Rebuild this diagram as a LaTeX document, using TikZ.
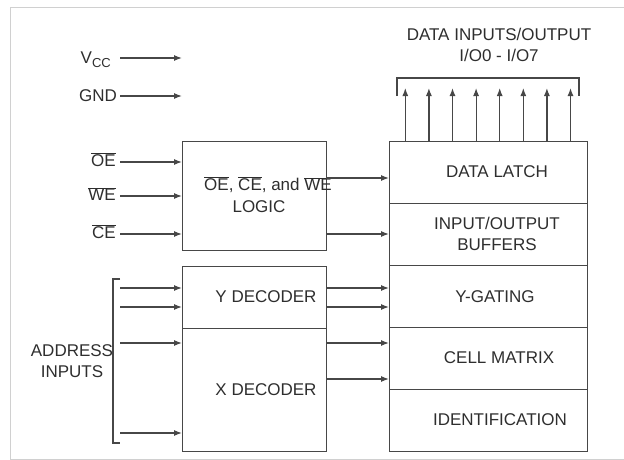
\documentclass[tikz,border=0pt]{standalone}
\usepackage{fontspec}
\setmainfont{Liberation Sans}
\usetikzlibrary{arrows.meta}
\definecolor{linec}{HTML}{474747}
\definecolor{textc}{HTML}{2E2E2E}
\definecolor{framec}{HTML}{D0D0D0}
\newcommand{\ovl}[1]{$\overline{\hbox{#1}}$}
\begin{document}
\begin{tikzpicture}[x=1pt,y=-1pt,
  ln/.style={draw=linec, line width=1.2pt},
  arr/.style={ln, -{Latex[length=8pt,width=6pt]}},
  blk/.style={draw=linec, line width=1.2pt, anchor=north west, inner sep=0pt, minimum width=144pt},
  stk/.style={draw=linec, line width=1.2pt, anchor=north west, inner sep=0pt, minimum width=198pt, minimum height=62pt},
  txt/.style={text=textc, font=\fontsize{17}{19}\selectfont, inner sep=0pt, align=center}]
\useasboundingbox (0,0) rectangle (624,460);
% frame
\draw[framec, line width=0.8pt] (630,7) -- (10,7) -- (10,459) -- (630,459);

% boxes
\node[blk, minimum height=109pt] (logic) at (182,141) {};
\node[blk, minimum height=62pt] (ydec) at (182,266) {};
\node[blk, minimum height=123pt] (xdec) at (182,328) {};
\node[stk] (latch) at (389,141) {};
\node[stk] (buf) at (389,203) {};
\node[stk] (ygate) at (389,265) {};
\node[stk] (cell) at (389,327) {};
\node[stk] (ident) at (389,389) {};

% texts
\node[txt] (tlogic1) at (268,185) {\ovl{OE}, \ovl{CE}, and \ovl{WE}};
\node[txt] (tlogic2) at (259,207) {LOGIC};
\node[txt] (tydec) at (266,297) {Y DECODER};
\node[txt] (txdec) at (266,390) {X DECODER};
\node[txt] (tlatch) at (497,172) {DATA LATCH};
\node[txt] (tbuf) at (497,234) {INPUT/OUTPUT\\[2pt]BUFFERS};
\node[txt] (tygate) at (495,297) {Y-GATING};
\node[txt] (tcell) at (499,358) {CELL MATRIX};
\node[txt] (tident) at (500,420) {IDENTIFICATION};
\node[txt] (tdata) at (499,45) {DATA INPUTS/OUTPUT\\[2pt]I/O0 - I/O7};
\node[txt] (taddr) at (72,361) {ADDRESS\\[2pt]INPUTS};

\node[txt, anchor=east] (lvcc) at (111,60) {V\raisebox{-0.4ex}{\fontsize{13}{13}\selectfont CC}};
\node[txt, anchor=east] (lgnd) at (117,96) {GND};
\node[txt, anchor=east] (loe) at (116,160) {\ovl{OE}};
\node[txt, anchor=east] (lwe) at (116,194) {\ovl{WE}};
\node[txt, anchor=east] (lce) at (116,232) {\ovl{CE}};

% power arrows
\coordinate (vccS) at (120,58);
\coordinate (vccE) at (182,58);
\coordinate (gndS) at (120,96);
\coordinate (gndE) at (182,96);
\draw[arr] (vccS) -- (vccE);
\draw[arr] (gndS) -- (gndE);

% control inputs
\coordinate (oeS) at (120,162);
\coordinate (weS) at (120,196);
\coordinate (ceS) at (120,234);
\draw[arr] (oeS) -- (oeS -| logic.west);
\draw[arr] (weS) -- (weS -| logic.west);
\draw[arr] (ceS) -- (ceS -| logic.west);

% logic to stack
\coordinate (l1) at (326,178);
\coordinate (l2) at (326,234);
\draw[arr] (l1) -- (l1 -| latch.west);
\draw[arr] (l2) -- (l2 -| buf.west);

% address inputs
\draw[ln] (120,279) -- (113,279) -- (113,443) -- (120,443);
\coordinate (a1) at (120,288);
\coordinate (a2) at (120,307);
\coordinate (a3) at (120,343);
\coordinate (a4) at (120,433);
\draw[arr] (a1) -- (a1 -| ydec.west);
\draw[arr] (a2) -- (a2 -| ydec.west);
\draw[arr] (a3) -- (a3 -| xdec.west);
\draw[arr] (a4) -- (a4 -| xdec.west);

% decoders to stack
\coordinate (d1) at (326,288);
\coordinate (d2) at (326,307);
\coordinate (d3) at (326,343);
\coordinate (d4) at (326,379);
\draw[arr] (d1) -- (d1 -| ygate.west);
\draw[arr] (d2) -- (d2 -| ygate.west);
\draw[arr] (d3) -- (d3 -| cell.west);
\draw[arr] (d4) -- (d4 -| cell.west);

% data I/O
\draw[ln] (397,96) -- (397,78) -- (579,78) -- (579,96);
\foreach \i in {0,...,7} {
  \coordinate (io\i) at ({405.3+\i*23.6},88);
  \draw[arr] (io\i |- latch.north) -- (io\i);
}
\end{tikzpicture}
\end{document}
